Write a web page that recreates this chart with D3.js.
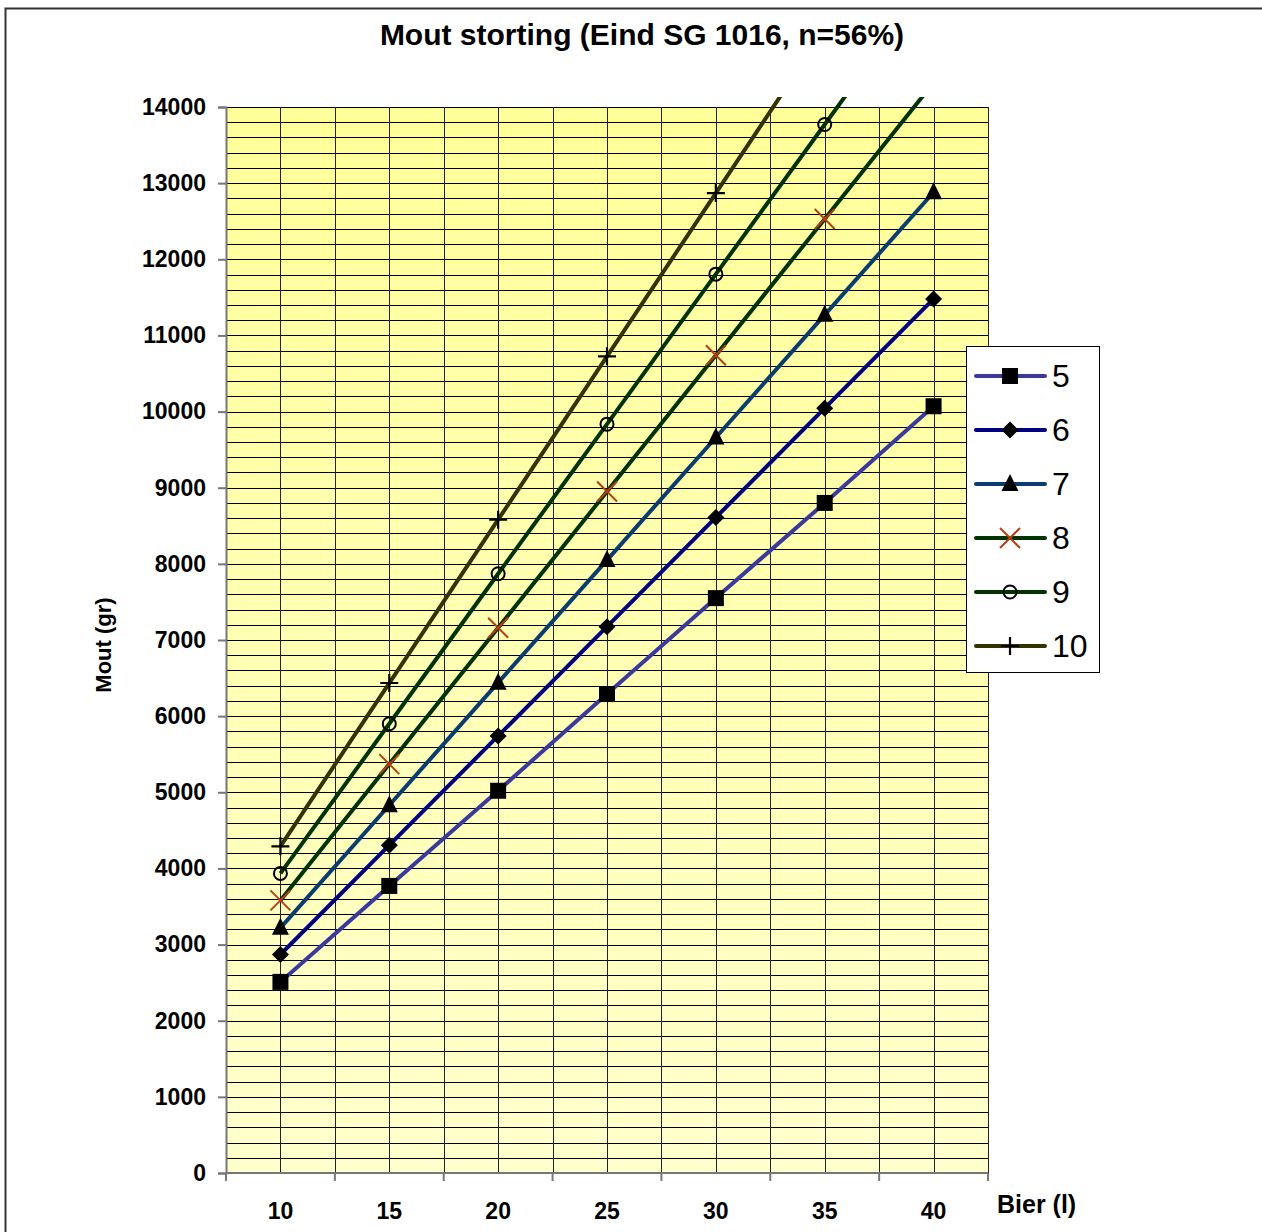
<!DOCTYPE html>
<html>
<head>
<meta charset="utf-8">
<script src="https://cdn.jsdelivr.net/npm/d3@7"></script>
<style>
  html, body { margin: 0; padding: 0; background: #fff; }
  svg { display: block; font-family: "Liberation Sans", Arial, sans-serif; }
</style>
</head>
<body>
<svg id="chart" width="1262" height="1232"></svg>
<script>
// Beer volume in litres (x categories)
const volumes = [10, 15, 20, 25, 30, 35, 40];
// Malt amount (grams) per series, one value per volume
const seriesNames = ["5", "6", "7", "8", "9", "10"];
const malt5  = [2510, 3770, 5020, 6290, 7550, 8800, 10070];
const malt6  = [2870, 4305, 5740, 7175, 8610, 10045, 11480];
const malt7  = [3220, 4830, 6440, 8050, 9660, 11270, 12880];
const malt8  = [3580, 5370, 7160, 8950, 10740, 12530, 14320];
const malt9  = [3935, 5900, 7870, 9835, 11805, 13770, 15740];
const malt10 = [4290, 6435, 8580, 10725, 12870, 15015, 17160];
const yTicks = [0, 1000, 2000, 3000, 4000, 5000, 6000, 7000, 8000, 9000, 10000, 11000, 12000, 13000, 14000];

const seriesValues = [malt5, malt6, malt7, malt8, malt9, malt10];
const lineColors = ["#3a3a9c", "#000080", "#0a3d6e", "#003300", "#003300", "#333300"];
const markerTypes = ["square", "diamond", "triangle", "x", "circle", "plus"];

const svg = d3.select("#chart");
const plotL = 226, plotR = 988, plotT = 107, plotB = 1173;

// Chart-area frame (only top and left edges fall inside the view)
svg.append("rect").attr("x", 5.5).attr("y", 8.5).attr("width", 1400).attr("height", 1400)
  .attr("fill", "#fff").attr("stroke", "#333").attr("stroke-width", 2);

const x = d3.scaleBand().domain(volumes).range([plotL, plotR]).padding(0);
const y = d3.scaleLinear().domain([0, 14000]).range([plotB, plotT]);

// Plot background: yellow gradient
const defs = svg.append("defs");
const grad = defs.append("linearGradient").attr("id", "bg").attr("x1", 0).attr("y1", 0).attr("x2", 0).attr("y2", 1);
grad.append("stop").attr("offset", "0%").attr("stop-color", "#ffff99");
grad.append("stop").attr("offset", "100%").attr("stop-color", "#ffffcc");
svg.append("rect").attr("x", plotL).attr("y", plotT).attr("width", plotR - plotL).attr("height", plotB - plotT)
  .attr("fill", "url(#bg)");

// Horizontal grid every 200 g
const grid = svg.append("g").attr("stroke", "#000").attr("stroke-width", 1).attr("shape-rendering", "crispEdges");
d3.range(200, 14001, 200).forEach(v => {
  grid.append("line").attr("x1", plotL).attr("x2", plotR).attr("y1", Math.round(y(v)) + 0.5).attr("y2", Math.round(y(v)) + 0.5);
});
// Vertical grid at category edges and centres
const vLines = [];
volumes.forEach(v => { vLines.push(x(v)); vLines.push(x(v) + x.bandwidth() / 2); });
vLines.push(plotR);
vLines.filter(p => p > plotL).forEach(p => {
  grid.append("line").attr("x1", Math.round(p) + 0.5).attr("x2", Math.round(p) + 0.5).attr("y1", plotT).attr("y2", plotB)
    .attr("stroke", "#222");
});

// Axes
const yAxis = d3.axisLeft(y).tickValues(yTicks).tickSize(8).tickPadding(12).tickFormat(d3.format("d"));
const gy = svg.append("g").attr("transform", `translate(${plotL},0)`).call(yAxis);
gy.select(".domain").attr("stroke", "#777").attr("stroke-width", 2);
gy.selectAll(".tick line").attr("stroke", "#777").attr("stroke-width", 2);
gy.selectAll(".tick text").attr("font-size", 23).attr("font-weight", "bold").attr("fill", "#000")
  .attr("font-family", "Liberation Sans, Arial, sans-serif");

const gx = svg.append("g").attr("transform", `translate(0,${plotB})`);
gx.append("line").attr("x1", plotL).attr("x2", plotR).attr("y1", 0).attr("y2", 0).attr("stroke", "#777").attr("stroke-width", 2);
volumes.concat([null]).forEach(v => {
  const px = v === null ? plotR : x(v);
  gx.append("line").attr("x1", px).attr("x2", px).attr("y1", 0).attr("y2", 8).attr("stroke", "#777").attr("stroke-width", 2);
});
volumes.forEach(v => {
  gx.append("text").attr("x", x(v) + x.bandwidth() / 2).attr("y", 46).attr("text-anchor", "middle")
    .attr("font-size", 23).attr("font-weight", "bold").text(v);
});

// Titles
svg.append("text").attr("x", 642).attr("y", 45).attr("text-anchor", "middle")
  .attr("font-size", 30).attr("font-weight", "bold").text("Mout storting (Eind SG 1016, n=56%)");
svg.append("text").attr("transform", "translate(111,645) rotate(-90)").attr("text-anchor", "middle")
  .attr("font-size", 22).attr("font-weight", "bold").text("Mout (gr)");
svg.append("text").attr("x", 997).attr("y", 1213).attr("font-size", 25).attr("font-weight", "bold").text("Bier (l)");

// Marker drawing helper
function drawMarker(g, type, mx, my) {
  if (type === "square") {
    g.append("rect").attr("x", mx - 8).attr("y", my - 8).attr("width", 16).attr("height", 16).attr("fill", "#000");
  } else if (type === "diamond") {
    g.append("path").attr("d", `M${mx},${my - 8.5}L${mx + 8.5},${my}L${mx},${my + 8.5}L${mx - 8.5},${my}Z`).attr("fill", "#000");
  } else if (type === "triangle") {
    g.append("path").attr("d", `M${mx},${my - 10}L${mx + 8.5},${my + 7}L${mx - 8.5},${my + 7}Z`).attr("fill", "#000");
  } else if (type === "x") {
    g.append("path").attr("d", `M${mx - 10},${my - 10}L${mx + 10},${my + 10}M${mx + 10},${my - 10}L${mx - 10},${my + 10}`)
      .attr("stroke", "#b5410f").attr("stroke-width", 2).attr("fill", "none");
  } else if (type === "circle") {
    g.append("circle").attr("cx", mx).attr("cy", my).attr("r", 6.5).attr("fill", "none").attr("stroke", "#000").attr("stroke-width", 2);
  } else if (type === "plus") {
    g.append("path").attr("d", `M${mx - 9},${my}L${mx + 9},${my}M${mx},${my - 9}L${mx},${my + 9}`)
      .attr("stroke", "#000").attr("stroke-width", 2.2).attr("fill", "none");
  }
}

// Series lines clipped slightly above plot area
defs.append("clipPath").attr("id", "clip").append("rect")
  .attr("x", plotL).attr("y", plotT - 10).attr("width", plotR - plotL + 20).attr("height", plotB - plotT + 10);
const cxOf = v => x(v) + x.bandwidth() / 2;
const line = d3.line().x(d => cxOf(d[0])).y(d => y(d[1]));
const plot = svg.append("g").attr("clip-path", "url(#clip)");
seriesValues.forEach((vals, i) => {
  const pts = volumes.map((v, j) => [v, vals[j]]);
  plot.append("path").datum(pts).attr("d", line).attr("fill", "none")
    .attr("stroke", lineColors[i]).attr("stroke-width", 4);
});
const markers = svg.append("g");
seriesValues.forEach((vals, i) => {
  volumes.forEach((v, j) => {
    if (vals[j] <= 14000) drawMarker(markers, markerTypes[i], cxOf(v), y(vals[j]));
  });
});

// Legend
const lg = svg.append("g");
lg.append("rect").attr("x", 966.5).attr("y", 346.5).attr("width", 133).attr("height", 326)
  .attr("fill", "#fff").attr("stroke", "#000").attr("stroke-width", 1);
seriesNames.forEach((name, i) => {
  const ly = 376 + i * 54;
  lg.append("line").attr("x1", 976).attr("x2", 1045).attr("y1", ly).attr("y2", ly)
    .attr("stroke", lineColors[i]).attr("stroke-width", 4).attr("stroke-linecap", "round");
  drawMarker(lg, markerTypes[i], 1010, ly);
  lg.append("text").attr("x", 1052).attr("y", ly + 11).attr("font-size", 32).text(name);
});
</script>
</body>
</html>
